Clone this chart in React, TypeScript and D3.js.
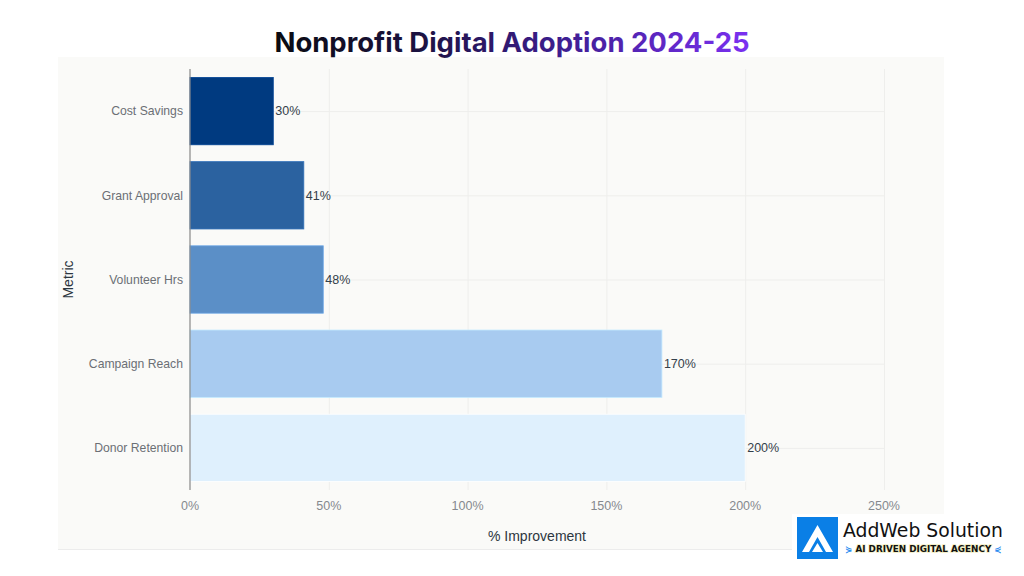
import React, { useEffect, useRef } from 'react';
import * as d3 from 'd3';

const categories = ['Cost Savings', 'Grant Approval', 'Volunteer Hrs', 'Campaign Reach', 'Donor Retention'];
const improvements = [30, 41, 48, 170, 200];
const barColors = ['#003a80', '#2b62a0', '#5b8fc7', '#a8cbf0', '#dff0fd'];
const xTicks = [0, 50, 100, 150, 200, 250];

const W = 1024;
const H = 576;
const margin = { left: 190, right: 140, top: 69, bottom: 86 };

const App: React.FC = () => {
  const svgRef = useRef<SVGSVGElement>(null);

  useEffect(() => {
    if (!svgRef.current) return;
    const svg = d3.select(svgRef.current);
    svg.selectAll('*').remove();

    const font = '"Liberation Sans", Arial, sans-serif';

    // Gradient for title
    const defs = svg.append('defs');
    const grad = defs.append('linearGradient').attr('id', 'titleGrad')
      .attr('gradientUnits', 'userSpaceOnUse')
      .attr('x1', 275).attr('x2', 750).attr('y1', 0).attr('y2', 0);
    grad.append('stop').attr('offset', '0%').attr('stop-color', '#0a0a12');
    grad.append('stop').attr('offset', '30%').attr('stop-color', '#1c1240');
    grad.append('stop').attr('offset', '60%').attr('stop-color', '#3d1d90');
    grad.append('stop').attr('offset', '100%').attr('stop-color', '#7b30f2');

    svg.append('rect').attr('width', W).attr('height', H).attr('fill', '#ffffff');
    // panel
    svg.append('rect').attr('x', 58).attr('y', 57).attr('width', 886).attr('height', 492).attr('fill', '#fafaf8');
    svg.append('line').attr('x1', 58).attr('x2', 944).attr('y1', 549.5).attr('y2', 549.5)
      .attr('stroke', '#ececec').attr('stroke-width', 1);

    const x = d3.scaleLinear().domain([0, 250]).range([margin.left, W - margin.right]);
    const y = d3.scaleBand<string>().domain(categories)
      .range([margin.top, H - margin.bottom]).paddingInner(0.2).paddingOuter(0.1);

    // grid
    const grid = svg.append('g');
    grid.selectAll('line.v').data(xTicks.slice(1)).join('line')
      .attr('x1', d => x(d) + 0.5).attr('x2', d => x(d) + 0.5)
      .attr('y1', margin.top).attr('y2', H - margin.bottom)
      .attr('stroke', '#eeeeec').attr('stroke-width', 1);
    grid.selectAll('line.h').data(categories).join('line')
      .attr('x1', margin.left).attr('x2', x(250))
      .attr('y1', d => (y(d) ?? 0) + y.bandwidth() / 2 + 0.5)
      .attr('y2', d => (y(d) ?? 0) + y.bandwidth() / 2 + 0.5)
      .attr('stroke', '#eeeeec').attr('stroke-width', 1);

    // bars
    svg.append('g').selectAll('rect').data(categories).join('rect')
      .attr('x', x(0))
      .attr('y', d => y(d) ?? 0)
      .attr('width', (_, i) => x(improvements[i]) - x(0))
      .attr('height', y.bandwidth())
      .attr('fill', (_, i) => barColors[i])
      .attr('stroke', (_, i) => d3.color(barColors[i])!.brighter(0.4).formatHex())
      .attr('stroke-width', 0.8);

    // value labels
    svg.append('g').selectAll('text').data(categories).join('text')
      .attr('x', (_, i) => x(improvements[i]) + 2)
      .attr('y', d => (y(d) ?? 0) + y.bandwidth() / 2)
      .attr('dy', '0.35em')
      .attr('font-family', font).attr('font-size', 12.5).attr('fill', '#34404a')
      .text((_, i) => `${improvements[i]}%`);

    // y axis line
    svg.append('line').attr('x1', x(0)).attr('x2', x(0))
      .attr('y1', margin.top).attr('y2', H - margin.bottom)
      .attr('stroke', '#888').attr('stroke-width', 1.2);

    // category labels
    svg.append('g').selectAll('text').data(categories).join('text')
      .attr('x', x(0) - 7)
      .attr('y', d => (y(d) ?? 0) + y.bandwidth() / 2)
      .attr('dy', '0.35em').attr('text-anchor', 'end')
      .attr('font-family', font).attr('font-size', 12.2).attr('fill', '#6b6f75')
      .text(d => d);

    // x ticks
    svg.append('g').selectAll('text').data(xTicks).join('text')
      .attr('x', d => x(d)).attr('y', 510).attr('text-anchor', 'middle')
      .attr('font-family', font).attr('font-size', 12.5).attr('fill', '#85898e')
      .text(d => `${d}%`);

    // axis titles
    svg.append('text').attr('x', x(125)).attr('y', 541).attr('text-anchor', 'middle')
      .attr('font-family', font).attr('font-size', 14).attr('fill', '#2c3640')
      .text('% Improvement');
    svg.append('text')
      .attr('transform', `translate(73, ${(margin.top + H - margin.bottom) / 2}) rotate(-90)`)
      .attr('text-anchor', 'middle')
      .attr('font-family', font).attr('font-size', 14).attr('fill', '#2c3640')
      .text('Metric');

    // title
    svg.append('text').attr('x', 512).attr('y', 52).attr('text-anchor', 'middle')
      .attr('font-family', 'Inter, Lato, sans-serif').attr('font-weight', 700)
      .attr('font-size', 27.5).attr('fill', 'url(#titleGrad)')
      .text('Nonprofit Digital Adoption 2024-25');

    // logo
    const logo = svg.append('g');
    logo.append('rect').attr('x', 792).attr('y', 514).attr('width', 232).attr('height', 62).attr('fill', '#ffffff');
    logo.append('rect').attr('x', 797).attr('y', 517).attr('width', 41).attr('height', 42).attr('fill', '#0a7fe6');
    logo.append('path').attr('d', 'M817.5 525 L833 552 L826 552 L817.5 537 L809 552 L802 552 Z').attr('fill', '#ffffff');
    logo.append('path').attr('d', 'M812 552 L817.5 543 L823 552 Z').attr('fill', '#ffffff');
    logo.append('text').attr('x', 843).attr('y', 537)
      .attr('font-family', '"DejaVu Sans", sans-serif').attr('font-size', 18.8).attr('fill', '#111')
      .text('AddWeb Solution');
    const tag = logo.append('text').attr('x', 845).attr('y', 552)
      .attr('font-family', '"DejaVu Sans", sans-serif').attr('font-weight', 'bold')
      .attr('font-size', 8.8).attr('fill', '#111')
      .style('paint-order', 'stroke').attr('stroke', '#f3eec0').attr('stroke-width', 1.5);
    tag.append('tspan').attr('fill', '#2a8cf0').attr('stroke', 'none').text('⋟ ');
    tag.append('tspan').text('AI DRIVEN DIGITAL AGENCY');
    tag.append('tspan').attr('fill', '#2a8cf0').attr('stroke', 'none').text(' ⋞');
  }, []);

  return (
    <svg ref={svgRef} width={W} height={H}
      style={{ position: 'absolute', left: 0, top: 0, display: 'block' }} />
  );
};

export default App;
